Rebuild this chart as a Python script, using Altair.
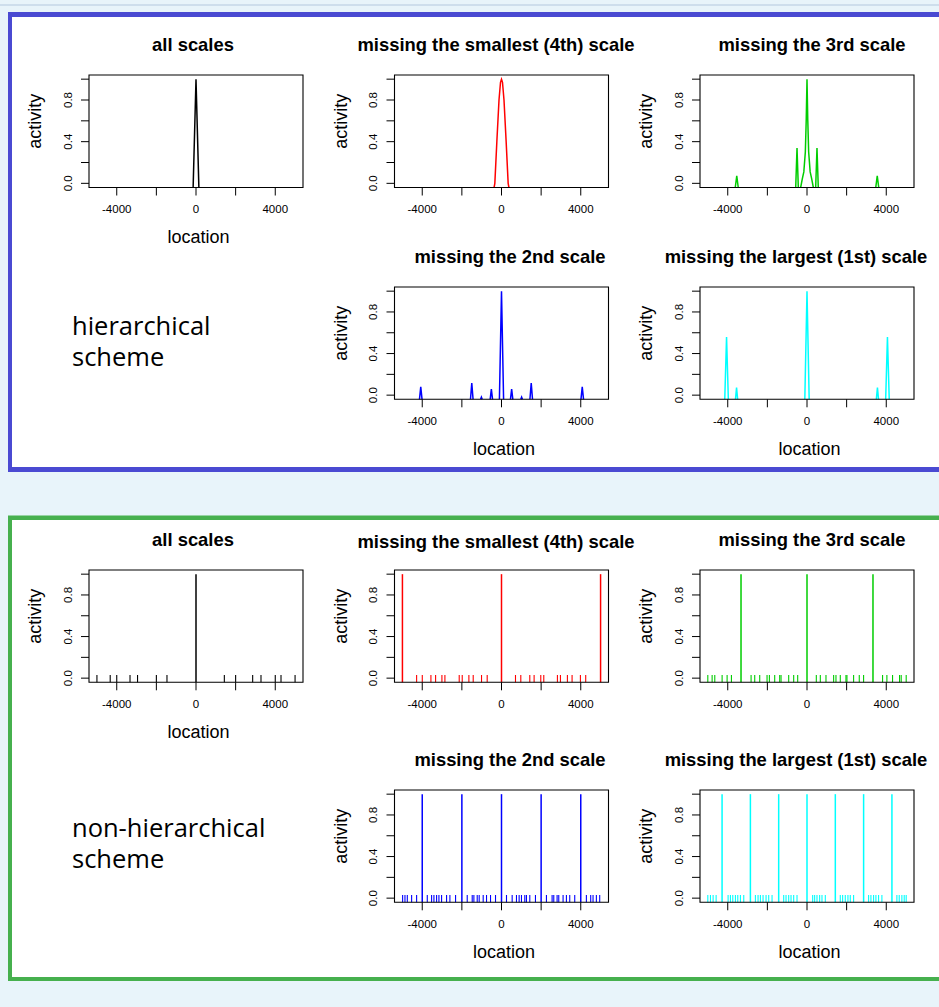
import altair as alt
import pandas as pd

# ---------------- axis ticks / labels / domains ----------------
X_TICKS = [-4000, -2000, 0, 2000, 4000]
X_LABEL_VALUES = [-4000, 0, 4000]
X_LABELS = ["-4000", "0", "4000"]
Y_TICKS = [0.0, 0.2, 0.4, 0.6, 0.8, 1.0]
Y_LABEL_VALUES = [0.0, 0.4, 0.8]
Y_LABELS = ["0.0", "0.4", "0.8"]
X_DOMAIN = [-5400, 5400]
Y_DOMAIN = [-0.04, 1.04]

TITLES = ["all scales", "missing the smallest (4th) scale", "missing the 3rd scale",
          "missing the 2nd scale", "missing the largest (1st) scale"]
X_TITLE = "location"
Y_TITLE = "activity"
COLORS = ["#000000", "#FF0000", "#00CD00", "#0000FF", "#00FFFF"]
SCHEMES = [["hierarchical", "scheme"], ["non-hierarchical", "scheme"]]

# ---------------- hierarchical scheme: curves (seg = separate peak) ----------------
H_ALL_LOC = [-145, 0, 145]
H_ALL_ACT = [-0.04, 1.0, -0.04]
H_ALL_SEG = [0, 0, 0]

H_M4_LOC = [-375, -336, -235, -126, -50, 0, 50, 126, 235, 336, 375]
H_M4_ACT = [-0.04, 0.0, 0.4, 0.8, 0.97, 1.0, 0.97, 0.8, 0.4, 0.0, -0.04]
H_M4_SEG = [0, 0, 0, 0, 0, 0, 0, 0, 0, 0, 0]

H_M3_LOC = [-3620, -3545, -3470, -570, -504, -438, -320, -240, -160, -84, -40, 0,
            40, 84, 160, 240, 320, 438, 504, 570, 3470, 3545, 3620]
H_M3_ACT = [-0.04, 0.071, -0.04, -0.04, 0.34, -0.04, -0.04, 0.04, 0.11, 0.3, 0.6, 1.0,
            0.6, 0.3, 0.11, 0.04, -0.04, -0.04, 0.34, -0.04, -0.04, 0.071, -0.04]
H_M3_SEG = [0, 0, 0, 1, 1, 1, 2, 2, 2, 2, 2, 2, 2, 2, 2, 2, 2, 3, 3, 3, 4, 4, 4]

H_M2_LOC = [-4140, -4075, -4010, -1565, -1500, -1435, -1055, -1015, -975,
            -572, -512, -452, -105, 0, 105, 452, 512, 572,
            975, 1015, 1055, 1435, 1500, 1565, 4010, 4075, 4140]
H_M2_ACT = [-0.04, 0.08, -0.04, -0.04, 0.115, -0.04, -0.04, -0.02, -0.04,
            -0.04, 0.058, -0.04, -0.04, 1.0, -0.04, -0.04, 0.058, -0.04,
            -0.04, -0.02, -0.04, -0.04, 0.115, -0.04, -0.04, 0.08, -0.04]
H_M2_SEG = [0, 0, 0, 1, 1, 1, 2, 2, 2, 3, 3, 3, 4, 4, 4, 5, 5, 5, 6, 6, 6, 7, 7, 7, 8, 8, 8]

H_M1_LOC = [-4150, -4060, -3970, -3610, -3555, -3500, -110, 0, 110,
            3500, 3555, 3610, 3970, 4060, 4150]
H_M1_ACT = [-0.04, 0.56, -0.04, -0.04, 0.074, -0.04, -0.04, 1.0, -0.04,
            -0.04, 0.074, -0.04, -0.04, 0.56, -0.04]
H_M1_SEG = [0, 0, 0, 1, 1, 1, 2, 2, 2, 3, 3, 3, 4, 4, 4]

# ---------------- non-hierarchical scheme: spikes ----------------
BASE_ACT = -0.04
BIG_ACT = 1.0
SMALL_ACT = 0.03
NH_ALL_BIG = [0]
NH_ALL_SMALL = [-5000, -4330, -4000, -3330, -2950, -2000, -1465, 1430, 2000, 2860, 3280, 4000, 4290, 5000]
NH_M4_BIG = [-5000, 0, 5000]
NH_M4_SMALL = [-4284, -3998, -3562, -3326, -3007, -2856, -2134, -1982, -1646, -1428, -1008, -722,
               706, 974, 1428, 1646, 1982, 2134, 2822, 2974, 3326, 3562, 3982, 4250]
NH_M3_BIG = [-3330, 0, 3330]
NH_M3_SMALL = [-5006, -4788, -4654, -4284, -4032, -3814, -2822, -2638, -2386, -2016, -1898, -1630,
               -1378, -1310, -924, -672, -470, 470, 672, 958, 1344, 1462, 1680, 1966, 2016, 2352,
               2638, 2856, 3814, 4032, 4318, 4670, 4754, 5006]
NH_M2_BIG = [-4000, -2000, 0, 2000, 4000]
NH_M2_SMALL = [-4990, -4872, -4754, -4536, -4284, -3746, -3528, -3410, -3276, -3158, -3024, -2772,
               -2604, -2318, -1730, -1478, -1394, -1226, -1126, -924, -756, -554, -302, 252, 538,
               756, 890, 1008, 1176, 1260, 1428, 1714, 2268, 2554, 2638, 2806, 2890, 3108, 3276,
               3444, 3696, 4284, 4502, 4620, 4788, 4956]
NH_M1_BIG = [-4286, -2857, -1429, 0, 1429, 2857, 4286]
NH_M1_SMALL = [-5006, -4872, -4738, -4586, -3982, -3864, -3746, -3612, -3494, -3360, -3192, -2604,
               -2470, -2352, -2218, -2066, -1932, -1764, -1176, -1058, -924, -806, -672, -504, 286,
               386, 504, 638, 756, 924, 1680, 1798, 1932, 2066, 2184, 2352, 3108, 3226, 3360, 3478,
               3612, 3780, 4536, 4654, 4788, 4906, 5006]

# ---------------- layout (pixels) ----------------
CW, CH = 939, 1007
COL_X = [(89, 303), (394.5, 608.5), (700, 914)]
ROW_Y = [(75, 187.5), (287, 399.3), (570, 682.3), (790, 902.3)]
TITLE_CX = [[193, 496, 812], [None, 510, 796], [193, 496, 812], [None, 510, 796]]
TITLE_BASE = [[51, 51, 51], [None, 263, 263], [546, 548, 546], [None, 766, 766]]
TICK = 8
FONT = "Liberation Sans"
BG = "#e8f4fa"

ONE = alt.Data(values=[{}])


def rect(x1, x2, y1, y2, **style):
    return alt.Chart(ONE).mark_rect(**style).encode(
        x=alt.value(x1), x2=alt.value(x2), y=alt.value(y1), y2=alt.value(y2))


def scales(col, row):
    x0, x1 = COL_X[col]
    y0, y1 = ROW_Y[row]
    xs = alt.Scale(domain=X_DOMAIN, range=[x0, x1], nice=False, zero=False)
    ys = alt.Scale(domain=Y_DOMAIN, range=[y1, y0], nice=False, zero=False)
    return xs, ys


def frame(col, row, idx, xtitle):
    """box, ticks, tick labels, axis titles and panel title"""
    x0, x1 = COL_X[col]
    y0, y1 = ROW_Y[row]
    xs, ys = scales(col, row)
    out = [rect(x0, x1, y0, y1, fillOpacity=0, stroke="black", strokeWidth=1.1)]
    xt = pd.DataFrame({"v": X_TICKS})
    out.append(alt.Chart(xt).mark_rule(color="black", strokeWidth=1).encode(
        x=alt.X("v:Q", scale=xs, axis=None), y=alt.value(y1), y2=alt.value(y1 + TICK)))
    xl = pd.DataFrame({"v": X_LABEL_VALUES, "t": X_LABELS})
    out.append(alt.Chart(xl).mark_text(font=FONT, fontSize=11.5, baseline="alphabetic",
                                       align="center", color="black").encode(
        x=alt.X("v:Q", scale=xs, axis=None), y=alt.value(y1 + 25.5), text="t:N"))
    yt = pd.DataFrame({"v": Y_TICKS})
    out.append(alt.Chart(yt).mark_rule(color="black", strokeWidth=1).encode(
        y=alt.Y("v:Q", scale=ys, axis=None), x=alt.value(x0 - TICK), x2=alt.value(x0)))
    yl = pd.DataFrame({"v": Y_LABEL_VALUES, "t": Y_LABELS})
    out.append(alt.Chart(yl).mark_text(font=FONT, fontSize=11.5, baseline="alphabetic",
                                       align="center", angle=270, color="black").encode(
        y=alt.Y("v:Q", scale=ys, axis=None), x=alt.value(x0 - 17.5), text="t:N"))
    out.append(alt.Chart(ONE).mark_text(font=FONT, fontSize=18, baseline="alphabetic",
                                        align="center", angle=270, color="black").encode(
        x=alt.value(x0 - 48), y=alt.value((y0 + y1) / 2 - 10), text=alt.value(Y_TITLE)))
    if xtitle:
        out.append(alt.Chart(ONE).mark_text(font=FONT, fontSize=18, baseline="alphabetic",
                                            align="center", color="black").encode(
            x=alt.value((x0 + x1) / 2 + 2.5), y=alt.value(y1 + 55.6), text=alt.value(X_TITLE)))
    out.append(alt.Chart(ONE).mark_text(
        font=FONT, fontSize=18.4, fontWeight="bold", align="center", baseline="alphabetic",
        color="black").encode(x=alt.value(TITLE_CX[row][col]), y=alt.value(TITLE_BASE[row][col]),
                              text=alt.value(TITLES[idx])))
    return out


def curve(col, row, idx, loc, act, seg, xtitle):
    xs, ys = scales(col, row)
    df = pd.DataFrame({"location": loc, "activity": act, "seg": seg})
    line = alt.Chart(df).mark_line(color=COLORS[idx], strokeWidth=1.5).encode(
        x=alt.X("location:Q", scale=xs, axis=None),
        y=alt.Y("activity:Q", scale=ys, axis=None),
        detail="seg:N")
    return [line] + frame(col, row, idx, xtitle)


def spikes(col, row, idx, big, small, xtitle):
    xs, ys = scales(col, row)
    big_df = pd.DataFrame({"location": big, "activity": [BIG_ACT for _ in big]})
    small_df = pd.DataFrame({"location": small, "activity": [SMALL_ACT for _ in small]})
    r_big = alt.Chart(big_df).mark_rule(color=COLORS[idx], strokeWidth=1.5).encode(
        x=alt.X("location:Q", scale=xs, axis=None),
        y=alt.Y("activity:Q", scale=ys, axis=None),
        y2=alt.datum(BASE_ACT))
    r_small = alt.Chart(small_df).mark_rule(color=COLORS[idx], strokeWidth=1.1).encode(
        x=alt.X("location:Q", scale=xs, axis=None),
        y=alt.Y("activity:Q", scale=ys, axis=None),
        y2=alt.datum(BASE_ACT))
    return [r_big, r_small] + frame(col, row, idx, xtitle)


def scheme_text(lines, base):
    return alt.Chart(ONE).mark_text(
        align="left", baseline="alphabetic", font="Open Sans", fontSize=25.5,
        lineHeight=31, color="black").encode(
        x=alt.value(72), y=alt.value(base), text=alt.value(lines))


layers = [
    rect(0, CW, 4.5, 5.5, fill="#b4c8de"),
    rect(8, 945, 12, 472, fill="#4a4ad2"),
    rect(12, 945, 17, 467, fill="white"),
    rect(8, 945, 515.5, 981, fill="#46b04e"),
    rect(12, 945, 520, 977, fill="white"),
]

# hierarchical scheme
layers += curve(0, 0, 0, H_ALL_LOC, H_ALL_ACT, H_ALL_SEG, True)
layers += curve(1, 0, 1, H_M4_LOC, H_M4_ACT, H_M4_SEG, False)
layers += curve(2, 0, 2, H_M3_LOC, H_M3_ACT, H_M3_SEG, False)
layers += curve(1, 1, 3, H_M2_LOC, H_M2_ACT, H_M2_SEG, True)
layers += curve(2, 1, 4, H_M1_LOC, H_M1_ACT, H_M1_SEG, True)
layers.append(scheme_text(SCHEMES[0], 335))

# non-hierarchical scheme
layers += spikes(0, 2, 0, NH_ALL_BIG, NH_ALL_SMALL, True)
layers += spikes(1, 2, 1, NH_M4_BIG, NH_M4_SMALL, False)
layers += spikes(2, 2, 2, NH_M3_BIG, NH_M3_SMALL, False)
layers += spikes(1, 3, 3, NH_M2_BIG, NH_M2_SMALL, True)
layers += spikes(2, 3, 4, NH_M1_BIG, NH_M1_SMALL, True)
layers.append(scheme_text(SCHEMES[1], 837))

chart = alt.layer(*layers).resolve_scale(
    x="independent", y="independent"
).properties(
    width=CW, height=CH, padding=0, autosize=alt.AutoSizeParams(type="none")
).configure(background=BG).configure_view(strokeWidth=0)

chart.save("out.html", embed_options={"renderer": "svg", "actions": False})
